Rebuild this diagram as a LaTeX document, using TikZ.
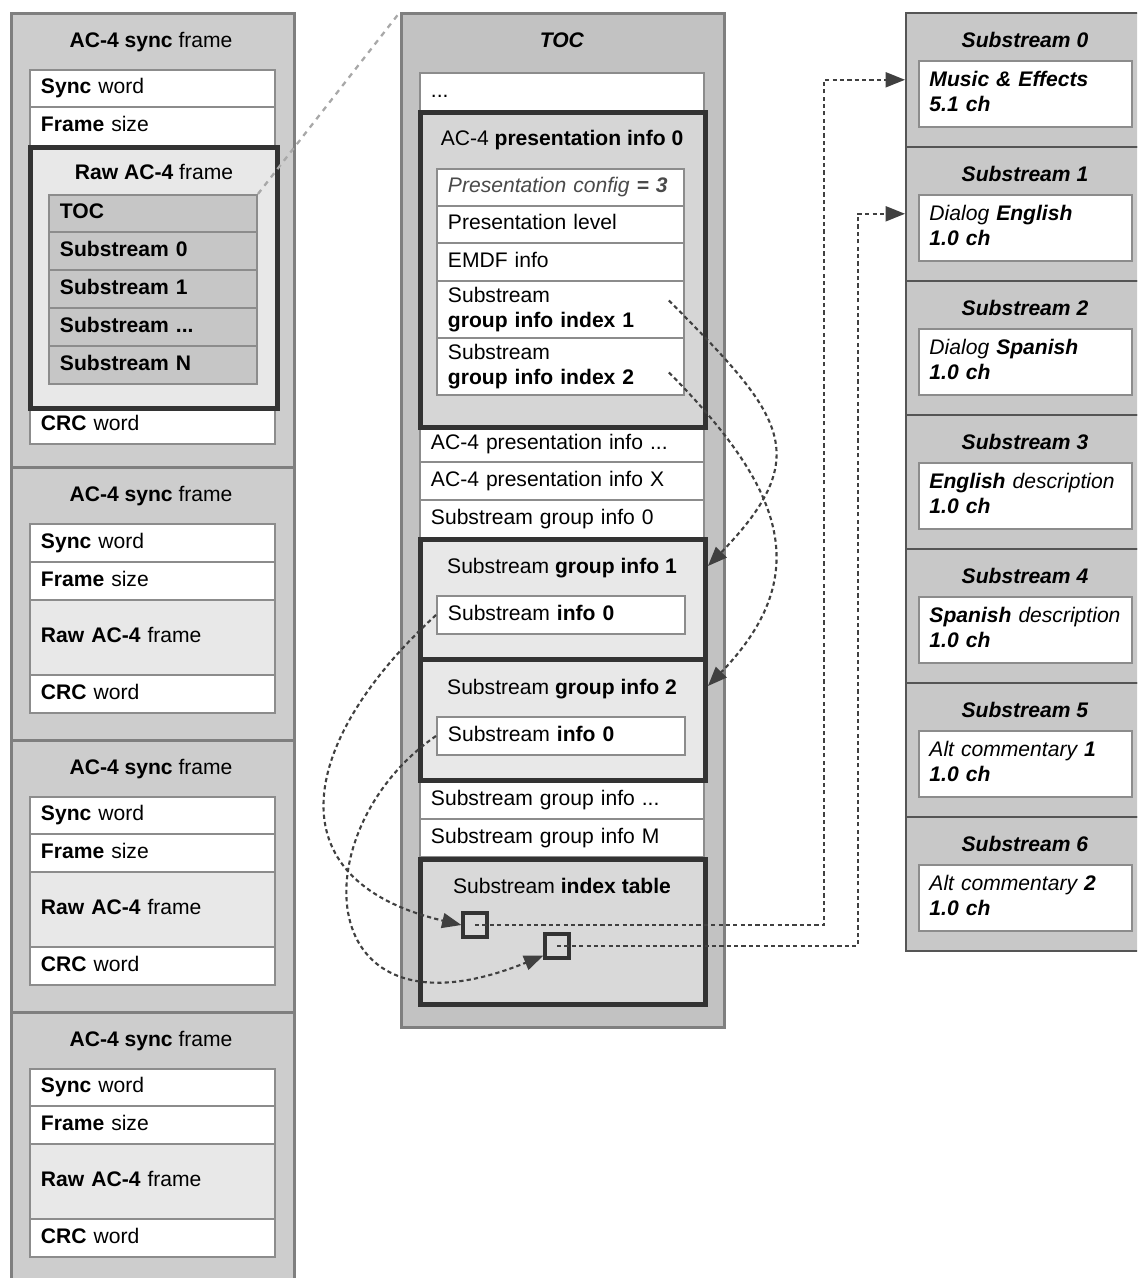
\documentclass[tikz,border=0pt]{standalone}
\usepackage{fontspec}
\setmainfont{Liberation Sans}
\usetikzlibrary{arrows.meta}

\definecolor{framefill}{HTML}{CDCDCD}
\definecolor{framegray}{HTML}{7F7F7F}
\definecolor{rowgray}{HTML}{8C8C8C}
\definecolor{rawfill}{HTML}{E8E8E8}
\definecolor{subfill}{HTML}{C6C6C6}
\definecolor{tocfill}{HTML}{C2C2C2}
\definecolor{presfill}{HTML}{D6D6D6}
\definecolor{groupfill}{HTML}{E8E8E8}
\definecolor{tablefill}{HTML}{D9D9D9}
\definecolor{cellfill}{HTML}{C8C8C8}
\definecolor{cellline}{HTML}{555555}
\definecolor{darkline}{HTML}{333333}
\definecolor{linkgray}{HTML}{404040}
\definecolor{zoomgray}{HTML}{A8A8A8}
\definecolor{textgray}{HTML}{4A4A4A}

\newcommand{\rowstrut}{\rule[-2.8pt]{0pt}{11.4pt}}

\begin{document}
\begin{tikzpicture}[x=0.02cm, y=-0.02cm, font=\fontsize{12}{14.2}\selectfont,
    outerbox/.style 2 args={draw=framegray, line width=1.6pt, fill=framefill, anchor=north west, inner sep=0pt, minimum width=#1*0.02cm, minimum height=#2*0.02cm},
    thickbox/.style 2 args={draw=darkline, line width=2.8pt, anchor=north west, inner sep=0pt, minimum width=#1*0.02cm, minimum height=#2*0.02cm},
    cellrow/.style 2 args={draw=rowgray, line width=1.1pt, fill=white, anchor=north west, inner xsep=0.22cm, inner ysep=0pt, text width=#1*0.02cm-0.44cm, minimum height=#2*0.02cm, align=left, execute at begin node=\rowstrut, execute at end node=\rowstrut},
    descbox/.style={cellrow={213}{66}, inner xsep=0.21cm, text width=192*0.02cm},
    cell/.style={draw=cellline, line width=0.9pt, fill=cellfill, anchor=north west, inner sep=0pt, minimum width=240*0.02cm, minimum height=134*0.02cm},
    slot/.style={draw=darkline, line width=1.8pt, fill=tablefill, inner sep=0pt, minimum size=24*0.02cm},
    heading/.style={anchor=base},
    link/.style={draw=linkgray, line width=1.2pt, dash pattern=on 2.4pt off 1.8pt},
    >={Triangle[length=11pt,width=8.5pt]}]
	\useasboundingbox (0,0) rectangle (1137,1278);
	\clip (0,0) rectangle (1137,1278);

	% sync frames
	\node[outerbox={283}{454}] (syncframe1) at (10,12) {};
	\node[outerbox={283}{273}] (syncframe2) at (10,466) {};
	\node[outerbox={283}{272}] (syncframe3) at (10,739) {};
	\node[outerbox={283}{300}] (syncframe4) at (10,1011) {};

	\node[heading] (synctitle1) at (151,47.5) {\textbf{AC-4 sync} frame};
	\node[cellrow={245}{37}] (syncword1) at (29,69) {\textbf{Sync} word};
	\node[cellrow={245}{39}] (framesize1) at (29,106) {\textbf{Frame} size};
	\node[cellrow={245}{37}] (crcword1) at (29,406) {\textbf{CRC} word};
	\node[thickbox={247}{261}, fill=rawfill] (raw1) at (28,145) {};
	\node[heading] (rawtitle1) at (154,179.5) {\textbf{Raw AC-4} frame};
	\node[cellrow={208}{37}, fill=subfill] (toc) at (48,194) {\textbf{TOC}};
	\node[cellrow={208}{38}, fill=subfill] (sub0) at (48,231) {\textbf{Substream 0}};
	\node[cellrow={208}{38}, fill=subfill] (sub1) at (48,269) {\textbf{Substream 1}};
	\node[cellrow={208}{38}, fill=subfill] (subdots) at (48,307) {\textbf{Substream ...}};
	\node[cellrow={208}{38}, fill=subfill] (subN) at (48,345) {\textbf{Substream N}};

	\node[heading] (synctitle2) at (151,501.5) {\textbf{AC-4 sync} frame};
	\node[cellrow={245}{38}] (syncword2) at (29,523) {\textbf{Sync} word};
	\node[cellrow={245}{38}] (framesize2) at (29,561) {\textbf{Frame} size};
	\node[cellrow={245}{75}, fill=rawfill] (raw2) at (29,599) {\textbf{Raw AC-4} frame};
	\node[cellrow={245}{38}] (crcword2) at (29,674) {\textbf{CRC} word};

	\node[heading] (synctitle3) at (151,774.5) {\textbf{AC-4 sync} frame};
	\node[cellrow={245}{37}] (syncword3) at (29,796) {\textbf{Sync} word};
	\node[cellrow={245}{38}] (framesize3) at (29,833) {\textbf{Frame} size};
	\node[cellrow={245}{75}, fill=rawfill] (raw3) at (29,871) {\textbf{Raw AC-4} frame};
	\node[cellrow={245}{38}] (crcword3) at (29,946) {\textbf{CRC} word};

	\node[heading] (synctitle4) at (151,1046.5) {\textbf{AC-4 sync} frame};
	\node[cellrow={245}{37}] (syncword4) at (29,1068) {\textbf{Sync} word};
	\node[cellrow={245}{38}] (framesize4) at (29,1105) {\textbf{Frame} size};
	\node[cellrow={245}{75}, fill=rawfill] (raw4) at (29,1143) {\textbf{Raw AC-4} frame};
	\node[cellrow={245}{38}] (crcword4) at (29,1218) {\textbf{CRC} word};

	% TOC
	\node[outerbox={323}{1014}, fill=tocfill] (tocbox) at (400,12) {};
	\node[heading] (toctitle) at (562,47.5) {\textbf{\textit{TOC}}};
	\node[cellrow={284}{38}] (tocdots) at (419,72) {...};
	\node[cellrow={284}{36}] (presdots) at (419,425) {AC-4 presentation info ...};
	\node[cellrow={284}{38}] (presX) at (419,461) {AC-4 presentation info X};
	\node[cellrow={284}{38}] (group0) at (419,499) {Substream group info 0};
	\node[cellrow={284}{37}] (groupdots) at (419,781) {Substream group info ...};
	\node[cellrow={284}{38}] (groupM) at (419,818) {Substream group info M};

	\node[thickbox={285}{315}, fill=presfill] (pres0) at (418,110) {};
	\node[heading] (prestitle) at (562,145.5) {AC-4 \textbf{presentation info 0}};
	\node[cellrow={247}{37}] (presconfig) at (436,168) {\textcolor{textgray}{\textit{Presentation config} \textbf{\textit{= 3}}}};
	\node[cellrow={247}{37}] (preslevel) at (436,205) {Presentation level};
	\node[cellrow={247}{38}] (emdf) at (436,242) {EMDF info};
	\node[cellrow={247}{57}] (groupidx1) at (436,280) {Substream\\\textbf{group info index 1}};
	\node[cellrow={247}{57}] (groupidx2) at (436,337) {Substream\\\textbf{group info index 2}};

	\node[thickbox={285}{120}, fill=groupfill] (group1) at (418,537) {};
	\node[heading] (grouptitle1) at (562,573.5) {Substream \textbf{group info 1}};
	\node[cellrow={248}{38}] (info1) at (436,595) {Substream \textbf{info 0}};
	\node[thickbox={285}{121}, fill=groupfill] (group2) at (418,657) {};
	\node[heading] (grouptitle2) at (562,694.5) {Substream \textbf{group info 2}};
	\node[cellrow={248}{38}] (info2) at (436,716) {Substream \textbf{info 0}};

	\node[thickbox={285}{145}, fill=tablefill] (indextable) at (418,857) {};
	\node[heading] (tabletitle) at (562,893.5) {Substream \textbf{index table}};
	\node[slot] (slot1) at (475,925) {};
	\node[slot] (slot2) at (557,946) {};

	% substreams
	\node[cell] (cell0) at (905,12) {};
	\node[heading] at (1025,47.5) {\textbf{\textit{Substream 0}}};
	\node[descbox] (desc0) at (918,60) {\textbf{\textit{Music \& Effects}}\\\textbf{\textit{5.1 ch}}};
	\node[cell] (cell1) at (905,146) {};
	\node[heading] at (1025,181.5) {\textbf{\textit{Substream 1}}};
	\node[descbox] (desc1) at (918,194) {\textit{Dialog \textbf{English}}\\\textbf{\textit{1.0 ch}}};
	\node[cell] (cell2) at (905,280) {};
	\node[heading] at (1025,315.5) {\textbf{\textit{Substream 2}}};
	\node[descbox] (desc2) at (918,328) {\textit{Dialog \textbf{Spanish}}\\\textbf{\textit{1.0 ch}}};
	\node[cell] (cell3) at (905,414) {};
	\node[heading] at (1025,449.5) {\textbf{\textit{Substream 3}}};
	\node[descbox] (desc3) at (918,462) {\textit{\textbf{English} description}\\\textbf{\textit{1.0 ch}}};
	\node[cell] (cell4) at (905,548) {};
	\node[heading] at (1025,583.5) {\textbf{\textit{Substream 4}}};
	\node[descbox] (desc4) at (918,596) {\textit{\textbf{Spanish} description}\\\textbf{\textit{1.0 ch}}};
	\node[cell] (cell5) at (905,682) {};
	\node[heading] at (1025,717.5) {\textbf{\textit{Substream 5}}};
	\node[descbox] (desc5) at (918,730) {\textit{Alt commentary \textbf{1}}\\\textbf{\textit{1.0 ch}}};
	\node[cell] (cell6) at (905,816) {};
	\node[heading] at (1025,851.5) {\textbf{\textit{Substream 6}}};
	\node[descbox] (desc6) at (918,864) {\textit{Alt commentary \textbf{2}}\\\textbf{\textit{1.0 ch}}};

	% links
	\draw[draw=zoomgray, line width=1.3pt, dashed] (toc.north east) -- (tocbox.north west);
	\draw[link, ->] ([shift={(-16,-9)}]groupidx1.east) .. controls (780,413) and (818,453) .. ([shift={(0,29)}]group1.north east);
	\draw[link, ->] ([shift={(-16,6)}]groupidx2.east) .. controls (780,485) and (818,572) .. ([shift={(0,29)}]group2.north east);
	\draw[link, ->] (info1.west) .. controls (300,740) and (270,880) .. (slot1.west);
	\draw[link, ->] (info2.west) .. controls (300,830) and (310,1050) .. ([shift={(0,-4)}]slot2.south west);
	\draw[link, ->] (slot1.center) -- (824,925) |- (cell0.west);
	\draw[link, ->] (slot2.center) -- (858,946) |- (cell1.west);
\end{tikzpicture}
\end{document}
